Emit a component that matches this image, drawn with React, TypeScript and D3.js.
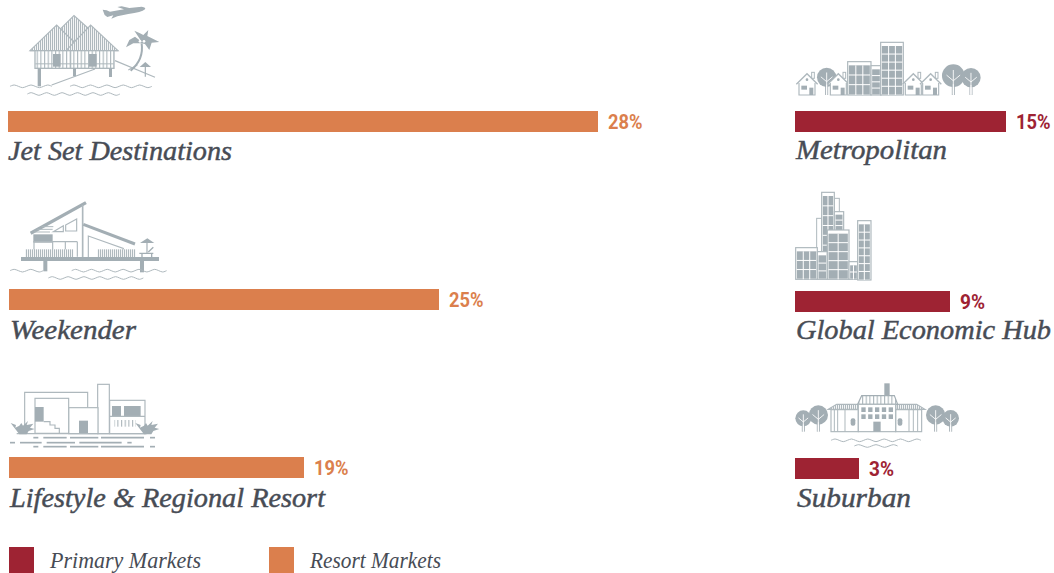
import React from "react";
import * as d3 from "d3";

// ---------- data ----------
const resortCategories = ["Jet Set Destinations", "Weekender", "Lifestyle & Regional Resort"];
const resortValues = [28, 25, 19];
const primaryCategories = ["Metropolitan", "Global Economic Hub", "Suburban"];
const primaryValues = [15, 9, 3];
const legendLabels = ["Primary Markets", "Resort Markets"];

// ---------- style / layout ----------
const ORANGE = "#DB7F4D";
const RED = "#9E2333";
const TEXT = "#474C55";
const GREY = "#A3AEB4";
const LIGHT = "#AEB8BD";
const SERIF = "'Liberation Serif', serif";
const SANS = "Roboto, sans-serif";

// The source infographic sizes its bars on a non-proportional scale.
const lengthScale = d3.scaleLinear()
  .domain([3, 9, 15, 19, 25, 28])
  .range([64, 155, 211, 295, 430, 590]);

const resortLayout = [
  { x: 8, top: 111, base: 160, tx: 8, tw: 224 },
  { x: 9, top: 289, base: 339, tx: 10, tw: 126 },
  { x: 9, top: 457, base: 507, tx: 10, tw: 315 },
];
const primaryLayout = [
  { x: 795, top: 111, base: 159, tx: 796, tw: 151 },
  { x: 795, top: 291, base: 339, tx: 796, tw: 255 },
  { x: 795, top: 458, base: 507, tx: 797, tw: 114 },
];
const BAR_H = 21;

// ---------- icon helpers (drawn in 3x local units) ----------
function wave(x0: number, x1: number, y: number, period = 24, amp = 4) {
  const n = Math.round((x1 - x0) / period);
  const p = (x1 - x0) / n;
  const pts: [number, number][] = [];
  for (let i = 0; i <= n * 2; i++) pts.push([x0 + (i * p) / 2, y + (i % 2 ? (i % 4 === 1 ? -amp : amp) : 0)]);
  return d3.line().curve(d3.curveCatmullRom)(pts) || "";
}
const Waves = ({ items, w = 3 }: { items: number[][]; w?: number }) => (
  <g fill="none" stroke={LIGHT} strokeWidth={w}>
    {items.map((d, i) => <path key={i} d={wave(d[0], d[1], d[2])} />)}
  </g>
);

const Tree = ({ x, y, r, foot }: { x: number; y: number; r: number; foot: number }) => (
  <g>
    <circle cx={x} cy={y} r={r} fill={GREY} />
    <path d={`M${x - 3},${foot} L${x - 3},${y} M${x + 3},${foot} L${x + 3},${y}`} stroke={GREY} strokeWidth={3} />
    <path d={`M${x},${foot - 2} L${x},${y - r * 0.5} M${x},${y + r * 0.45} L${x - r * 0.6},${y - r * 0.05} M${x},${y + r * 0.45} L${x + r * 0.6},${y - r * 0.05} M${x},${y + r * 0.75} L${x},${foot}`}
      stroke="#fff" strokeWidth={2.6} fill="none" />
  </g>
);

const House = ({ x, y }: { x: number; y: number }) => (
  <g transform={`translate(${x},${y})`}>
    <rect x={14} y={-2} width={8} height={18} fill="#fff" stroke={LIGHT} strokeWidth={3} />
    <path d="M-32,34 L0,2 L32,34" fill="#fff" stroke={LIGHT} strokeWidth={4} />
    <path d="M-24,30 V66 H24 V30" fill="#fff" stroke={LIGHT} strokeWidth={3.5} />
    <circle cx={0} cy={20} r={4} fill={GREY} />
    <rect x={-17} y={38} width={17} height={12} fill={GREY} />
    <rect x={7} y={44} width={12} height={22} fill={GREY} />
  </g>
);

const Building = ({ x, y, w, h, cols, rows, band = 8 }: { x: number; y: number; w: number; h: number; cols: number; rows: number; band?: number }) => (
  <g>
    <rect x={x} y={y} width={w} height={h} fill="#fff" stroke={LIGHT} strokeWidth={3.5} />
    <rect x={x + 3.5} y={y + band + 3} width={w - 7} height={h - band - 5} fill={GREY} />
    {d3.range(1, cols).map(i => {
      const X = x + 3.5 + ((w - 7) * i) / cols;
      return <line key={"c" + i} x1={X} x2={X} y1={y + band + 3} y2={y + h} stroke="#fff" strokeWidth={3} />;
    })}
    {d3.range(1, rows).map(i => {
      const Y = y + band + 3 + ((h - band - 5) * i) / rows;
      return <line key={"r" + i} x1={x + 3} x2={x + w - 3} y1={Y} y2={Y} stroke="#fff" strokeWidth={3} />;
    })}
  </g>
);

const FanPlant = ({ x, y }: { x: number; y: number }) => (
  <path transform={`translate(${x},${y})`} fill={GREY}
    d="M-8,2 L-34,-32 L-18,-26 L-20,-18 L-8,-24 L-2,-32 L3,-24 L18,-38 L14,-26 L34,-30 L24,-18 L38,-14 L20,-8 L14,2 Z" />
);

const JetSetIcon = () => (
  <g transform="scale(0.3333)">
    {/* plane */}
    <path fill={GREY} d="M308,29 L320,31 L330,35 L372,28 L352,21 L365,19 L388,24 L425,20 Q439,22 435,28 Q425,37 385,42 L352,49 L334,56 L340,46 L322,51 L314,45 Z" />
    {/* roof */}
    <path d="M180,88 L222,47 L268,88 L222,125 Z" fill="url(#hatch)" stroke={LIGHT} strokeWidth={3.5} />
    <path d="M90,152 L170,75 L226,130 L200,152 Z" fill="url(#hatch)" stroke={LIGHT} strokeWidth={3.5} />
    <path d="M198,152 L272,75 L354,152 Z" fill="url(#hatch)" stroke={LIGHT} strokeWidth={3.5} />
    <line x1={90} x2={355} y1={152} y2={152} stroke={LIGHT} strokeWidth={4} />
    {/* walls */}
    <rect x={105} y={152} width={237} height={53} fill="url(#hatchWide)" stroke={LIGHT} strokeWidth={4} />
    <line x1={212} x2={212} y1={152} y2={205} stroke={LIGHT} strokeWidth={3} />
    <rect x={106} y={190} width={235} height={3} fill={LIGHT} />
    <rect x={159} y={162} width={23} height={38} fill={GREY} />
    <rect x={267} y={162} width={23} height={38} fill={GREY} />
    {/* legs and ramps */}
    <rect x={113} y={205} width={10} height={54} fill={GREY} />
    <rect x={219} y={205} width={9} height={24} fill={GREY} />
    <rect x={327} y={205} width={9} height={26} fill={GREY} />
    <path d="M155,255 L285,207 M345,182 L465,232 M385,210 L412,195" stroke={LIGHT} strokeWidth={3.5} fill="none" />
    {/* palm */}
    <path d="M392,212 Q432,178 425,130" fill="none" stroke={GREY} strokeWidth={6} />
    <path fill={GREY} d="M425,125 L403,92 L420,100 L430,105 L445,90 L442,108 L478,126 L455,128 L448,150 L435,132 L425,130 L400,130 L378,142 L388,120 L405,110 Z" />
    <circle cx={420} cy={124} r={4} fill="#fff" /><circle cx={432} cy={124} r={4} fill="#fff" />
    {/* parasol */}
    <path fill={GREY} d="M419,201 L436,186 L453,201 Z" />
    <line x1={436} x2={436} y1={200} y2={230} stroke={GREY} strokeWidth={3.5} />
    <Waves items={[[30, 156, 259], [210, 456, 259], [82, 360, 282]]} />
  </g>
);

const WeekenderIcon = () => (
  <g transform="translate(0,190) scale(0.3333)">
    <line x1={92} y1={130} x2={258} y2={38} stroke={GREY} strokeWidth={10} />
    <line x1={248} y1={45} x2={248} y2={202} stroke={LIGHT} strokeWidth={5} />
    <line x1={250} y1={103} x2={405} y2={162} stroke={GREY} strokeWidth={9} />
    <path d="M160,125 L190,107 V125 Z M197,105 L230,87 V123 H197 Z" fill="none" stroke={LIGHT} strokeWidth={3.5} />
    <path d="M102,126 H150 M112,118 H158 M125,110 H160" stroke={LIGHT} strokeWidth={3} />
    <rect x={100} y={133} width={58} height={25} fill={GREY} />
    <path d="M100,155 H232 M158,155 V200 M196,155 V200 M232,155 V200 M102,155 V200" stroke={LIGHT} strokeWidth={3.5} fill="none" />
    <path d="M265,202 V138 L370,175 V202" fill="none" stroke={LIGHT} strokeWidth={3.5} />
    <rect x={75} y={178} width={145} height={23} fill="url(#hatch)" />
    <rect x={292} y={178} width={115} height={23} fill="url(#hatch)" />
    <rect x={63} y={201} width={414} height={12} fill={GREY} />
    <rect x={130} y={213} width={12} height={31} fill={GREY} />
    <rect x={420} y={213} width={12} height={34} fill={GREY} />
    <path fill={GREY} d="M420,159 L442,145 L463,159 Z" />
    <line x1={441} x2={441} y1={158} y2={190} stroke={GREY} strokeWidth={3.5} />
    <path d="M418,190 H460 M426,190 V201 M455,190 V201 M445,186 L460,172" stroke={GREY} strokeWidth={4} fill="none" />
    <Waves items={[[30, 130, 242], [215, 500, 242], [145, 430, 264]]} />
  </g>
);

const dashRowA = [[100, 115], [130, 200], [210, 295], [303, 432], [450, 465]];
const dashRowB = [[30, 45], [60, 125], [140, 225], [238, 365], [382, 395]];

const LifestyleIcon = () => (
  <g transform="translate(0,375) scale(0.3333)">
    <g fill="#fff" stroke={LIGHT} strokeWidth={3.5}>
      <path d="M74,150 V52 H263 V98" fill="none" />
      <rect x={293} y={28} width={35} height={148} />
      <rect x={329} y={76} width={106} height={100} />
      <rect x={206} y={98} width={88} height={78} />
      <rect x={105} y={70} width={101} height={105} />
    </g>
    <rect x={105} y={96} width={26} height={44} fill={GREY} />
    <rect x={237} y={137} width={27} height={38} fill={GREY} />
    <rect x={336} y={93} width={27} height={30} fill={GREY} />
    <rect x={372} y={93} width={50} height={30} fill={GREY} />
    <path d="M329,124 H435 M131,140 H150 V150 H165 V160 H178 V175" fill="none" stroke={LIGHT} strokeWidth={3.5} />
    <rect x={343} y={135} width={65} height={20} fill="url(#hatchWide)" />
    <line x1={50} x2={440} y1={176} y2={176} stroke={LIGHT} strokeWidth={3.5} />
    <FanPlant x={66} y={176} />
    <FanPlant x={440} y={176} />
    {[188, 215].map(y => dashRowA.map((d, i) => <line key={`${y}-${i}`} x1={d[0]} x2={d[1]} y1={y} y2={y} stroke={GREY} strokeWidth={5} />))}
    {dashRowB.map((d, i) => <line key={i} x1={d[0]} x2={d[1]} y1={203} y2={203} stroke={GREY} strokeWidth={5} />)}
  </g>
);

const MetroIcon = () => (
  <g transform="translate(785,35) scale(0.3333)">
    <Tree x={125} y={127} r={29} foot={180} />
    <House x={66} y={114} />
    <House x={160} y={114} />
    <Building x={188} y={80} w={70} h={100} cols={3} rows={3} />
    <Building x={258} y={92} w={30} h={88} cols={1} rows={4} />
    <Building x={287} y={22} w={68} h={158} cols={3} rows={6} />
    <House x={385} y={114} />
    <House x={437} y={114} />
    <Tree x={505} y={122} r={34} foot={180} />
    <Tree x={558} y={128} r={29} foot={180} />
  </g>
);

const HubIcon = () => (
  <g transform="translate(785,185) scale(0.3333)">
    <rect x={148} y={40} width={15} height={60} fill="#fff" stroke={LIGHT} strokeWidth={3} />
    <rect x={95} y={100} width={15} height={100} fill="#fff" stroke={LIGHT} strokeWidth={3} />
    <Building x={110} y={22} w={38} h={190} cols={2} rows={6} />
    <Building x={148} y={80} w={28} h={60} cols={1} rows={3} band={6} />
    <Building x={32} y={188} w={65} h={95} cols={3} rows={3} />
    <Building x={97} y={200} w={30} h={83} cols={1} rows={3} />
    <Building x={127} y={135} w={65} h={148} cols={2} rows={5} />
    <Building x={192} y={230} w={27} h={53} cols={2} rows={2} />
    <Building x={218} y={107} w={40} h={178} cols={2} rows={7} />
  </g>
);

const SuburbIcon = () => (
  <g transform="translate(785,375) scale(0.3333)">
    <Tree x={55} y={130} r={24} foot={170} />
    <Tree x={100} y={120} r={29} foot={170} />
    <Tree x={452} y={120} r={29} foot={170} />
    <Tree x={497} y={130} r={25} foot={170} />
    <rect x={298} y={25} width={16} height={38} fill={GREY} />
    <path d="M130,103 L155,88 H218 V103 Z M332,88 H395 L420,103 H332 Z" fill="url(#hatch)" stroke={LIGHT} strokeWidth={3.5} />
    <path d="M218,88 L230,62 H328 L338,88 Z" fill="url(#hatchWide)" stroke={GREY} strokeWidth={3.5} />
    <rect x={138} y={104} width={82} height={66} fill="#fff" stroke={LIGHT} strokeWidth={3.5} />
    <rect x={332} y={104} width={78} height={66} fill="#fff" stroke={LIGHT} strokeWidth={3.5} />
    <path d="M148,104 V170 M158,104 V170 M180,104 V170 M372,104 V170 M385,104 V170 M398,104 V170" stroke={LIGHT} strokeWidth={3} />
    <rect x={220} y={88} width={112} height={82} fill="#fff" stroke={LIGHT} strokeWidth={3.5} />
    {d3.range(5).map(c => d3.range(2).map(r => (
      <rect key={`${c}-${r}`} x={229 + c * 20.5} y={97 + r * 21} width={13} height={14} fill={GREY} />
    )))}
    <rect x={265} y={140} width={22} height={30} fill={GREY} />
    <rect x={197} y={130} width={14} height={22} rx={6} fill={GREY} />
    <rect x={338} y={130} width={14} height={22} rx={6} fill={GREY} />
    <Waves items={[[138, 408, 196], [208, 338, 213]]} />
  </g>
);

const resortIcons = [JetSetIcon, WeekenderIcon, LifestyleIcon];
const primaryIcons = [MetroIcon, HubIcon, SuburbIcon];

const Row = ({ label, value, color, layout }: { label: string; value: number; color: string; layout: typeof resortLayout[number] }) => {
  const len = lengthScale(value);
  return (
    <g>
      <rect x={layout.x} y={layout.top} width={len} height={BAR_H} fill={color} />
      <text x={layout.x + len + 10} y={layout.top + 18} fontFamily={SANS} fontWeight={700} fontSize={19.5} fill={color}
        textLength={value >= 10 ? 34.5 : 25} lengthAdjust="spacingAndGlyphs">{value}%</text>
      <text x={layout.tx} y={layout.base} fontFamily={SERIF} fontStyle="italic" fontSize={27} fill={TEXT} stroke={TEXT} strokeWidth={0.45}
        textLength={layout.tw} lengthAdjust="spacingAndGlyphs">{label}</text>
    </g>
  );
};

export default function App() {
  return (
    <svg width={1054} height={573} viewBox="0 0 1054 573" style={{ position: "absolute", left: 0, top: 0, background: "#fff" }}>
      <defs>
        <pattern id="hatch" width={6} height={6} patternUnits="userSpaceOnUse">
          <rect width={6} height={6} fill="#fff" />
          <rect width={3.4} height={6} fill={LIGHT} />
        </pattern>
        <pattern id="hatchWide" width={11} height={6} patternUnits="userSpaceOnUse">
          <rect width={11} height={6} fill="#fff" />
          <rect width={3.4} height={6} fill={LIGHT} />
        </pattern>
      </defs>
      {resortIcons.map((I, i) => <I key={i} />)}
      {primaryIcons.map((I, i) => <I key={i} />)}
      {resortCategories.map((c, i) => <Row key={c} label={c} value={resortValues[i]} color={ORANGE} layout={resortLayout[i]} />)}
      {primaryCategories.map((c, i) => <Row key={c} label={c} value={primaryValues[i]} color={RED} layout={primaryLayout[i]} />)}
      <rect x={9} y={547} width={25} height={26} fill={RED} />
      <rect x={269} y={547} width={25} height={26} fill={ORANGE} />
      <text x={50} y={568} fontFamily={SERIF} fontStyle="italic" fontSize={22.5} fill={TEXT} textLength={151} lengthAdjust="spacingAndGlyphs">{legendLabels[0]}</text>
      <text x={310} y={568} fontFamily={SERIF} fontStyle="italic" fontSize={22.5} fill={TEXT} textLength={131} lengthAdjust="spacingAndGlyphs">{legendLabels[1]}</text>
    </svg>
  );
}
